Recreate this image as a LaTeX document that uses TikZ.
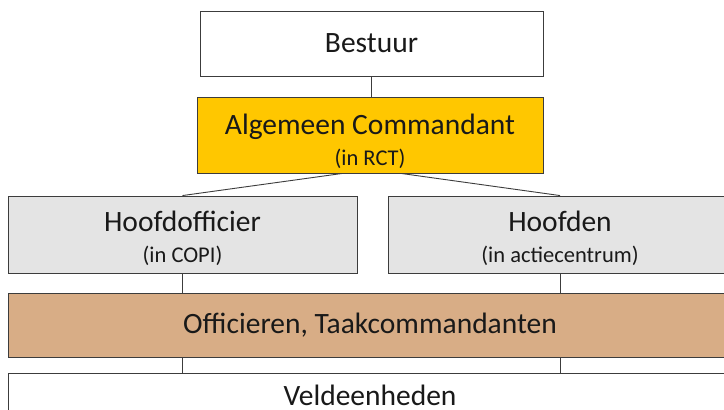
\documentclass[tikz,border=0pt]{standalone}
\usepackage{fontspec}
\setmainfont{Carlito}
\usepackage{tikz}
\usetikzlibrary{positioning,calc}
\definecolor{acgold}{HTML}{FFC700}
\definecolor{leadgray}{HTML}{E4E4E4}
\definecolor{officertan}{HTML}{D8AD86}
\definecolor{edgegray}{HTML}{3C3C3C}

\begin{document}
\begin{tikzpicture}[
    x=1pt, y=-1pt,
    unit/.style={
        draw=edgegray, line width=0.9pt, inner sep=0pt,
        align=center, text=black!90,
        font=\fontsize{29.5}{32}\selectfont
    },
    link/.style={draw=edgegray, line width=0.9pt}
]
    \clip (0,0) rectangle (724,410);
    \fill[white] (0,0) rectangle (724,410);

    \node[unit, fill=white, minimum width=343, minimum height=65] (bestuur) at (371.5, 43.5)
        {Bestuur};

    \node[unit, fill=acgold, minimum width=346, minimum height=76, text height=64] (ac) at (370, 135)
        {Algemeen Commandant\\[-1pt]{\fontsize{22.5}{24}\selectfont (in RCT)}};

    \node[unit, fill=leadgray, minimum width=349, minimum height=77, text height=59] (hoofdoff) at (182.5, 234.5)
        {Hoofdofficier\\[-1pt]{\fontsize{22.5}{24}\selectfont (in COPI)}};
    \node[unit, fill=leadgray, minimum width=344, minimum height=77, text height=59] (hoofden) at (560, 234.5)
        {Hoofden\\[-1pt]{\fontsize{22.5}{24}\selectfont (in actiecentrum)}};

    \node[unit, fill=officertan, minimum width=724, minimum height=64] (officieren) at (370, 325)
        {Officieren, Taakcommandanten};

    \node[unit, fill=white, minimum width=724, minimum height=44, text height=21] (veld) at (370, 395)
        {Veldeenheden};

    % verbindingen
    \draw[link] (bestuur.south) -- (bestuur.south |- ac.north);
    \draw[link] ($(ac.south west)!0.42!(ac.south east)$) -- (hoofdoff.north);
    \draw[link] ($(ac.south west)!0.59!(ac.south east)$) -- (hoofden.north);
    \draw[link] (hoofdoff.south) -- (hoofdoff.south |- officieren.north);
    \draw[link] (hoofden.south) -- (hoofden.south |- officieren.north);
    \draw[link] (officieren.south -| hoofdoff) -- (veld.north -| hoofdoff);
    \draw[link] (officieren.south -| hoofden) -- (veld.north -| hoofden);
\end{tikzpicture}
\end{document}
